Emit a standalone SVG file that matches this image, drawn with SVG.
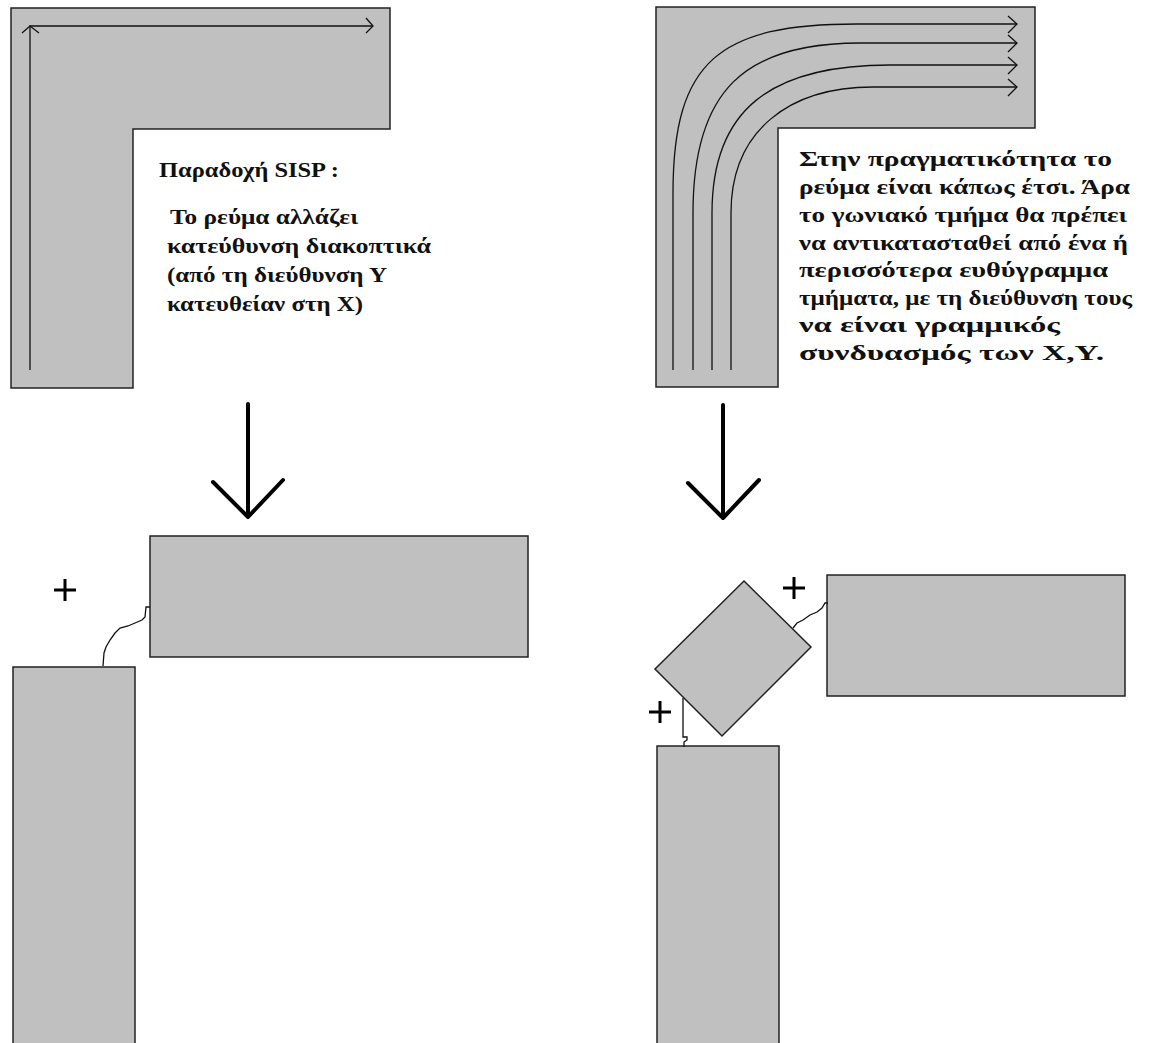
<svg xmlns="http://www.w3.org/2000/svg" width="1149" height="1043" viewBox="0 0 1149 1043">
<style>
.sh{fill:#c0c0c0;stroke:#222;stroke-width:1.5}
.fl{fill:none;stroke:#111;stroke-width:1.3}
.big{fill:none;stroke:#000;stroke-width:4;stroke-linecap:round;stroke-linejoin:round}
.plus{fill:none;stroke:#000;stroke-width:3}
.wv{fill:none;stroke:#111;stroke-width:1.3}
text{font-family:"Liberation Serif","DejaVu Serif",serif;font-weight:bold;font-size:22px;fill:#111}
</style>
<rect width="1149" height="1043" fill="#fff"/>
<g id="left-L">
<polygon class="sh" points="11,8 390,8 390,129 133,129 133,388 11,388"/>
<path class="fl" d="M30,370 L30,26 L373,26"/>
<path class="fl" d="M22,33 L30,26 L39,33"/>
<path class="fl" d="M366,18 L373,26 L366,33"/>
</g>
<g id="right-L">
<polygon class="sh" points="656,7 1035,7 1035,128 778,128 778,387 656,387"/>
<path class="fl" d="M673,370 L673,193 C673,60 720,24 857,24 L1017,24"/>
<path class="fl" d="M693,370 L693,213 C693,90 745,43 860,43 L1017,43"/>
<path class="fl" d="M712,370 L712,213 C712,110 770,65 890,65 L1017,65"/>
<path class="fl" d="M731,370 L731,213 C731,130 790,87 873,87 L1017,87"/>
<path class="fl" d="M1008,16 L1017,24 L1008,33 M1008,35 L1017,43 L1008,52 M1008,57 L1017,65 L1008,74 M1008,79 L1017,87 L1008,96"/>
</g>
<g id="left-text">
<text x="159" y="177" textLength="180" lengthAdjust="spacingAndGlyphs">Παραδοχή SISP :</text>
<text x="170" y="224" textLength="188" lengthAdjust="spacingAndGlyphs">Το ρεύμα αλλάζει</text>
<text x="167" y="253" textLength="264" lengthAdjust="spacingAndGlyphs">κατεύθυνση διακοπτικά</text>
<text x="167" y="282" textLength="220" lengthAdjust="spacingAndGlyphs">(από τη διεύθυνση Υ</text>
<text x="167" y="311" textLength="196" lengthAdjust="spacingAndGlyphs">κατευθείαν στη Χ)</text>
</g>
<g id="right-text">
<text x="799" y="166" textLength="313" lengthAdjust="spacingAndGlyphs">Στην πραγματικότητα το</text>
<text x="799" y="194" textLength="331" lengthAdjust="spacingAndGlyphs">ρεύμα είναι κάπως έτσι. Άρα</text>
<text x="799" y="222" textLength="328" lengthAdjust="spacingAndGlyphs">το γωνιακό τμήμα θα πρέπει</text>
<text x="799" y="250" textLength="329" lengthAdjust="spacingAndGlyphs">να αντικατασταθεί από ένα ή</text>
<text x="799" y="277" textLength="309" lengthAdjust="spacingAndGlyphs">περισσότερα ευθύγραμμα</text>
<text x="799" y="305" textLength="333" lengthAdjust="spacingAndGlyphs">τμήματα, με τη διεύθυνση τους</text>
<text x="799" y="332" textLength="261" lengthAdjust="spacingAndGlyphs">να είναι γραμμικός</text>
<text x="799" y="360" textLength="305" lengthAdjust="spacingAndGlyphs">συνδυασμός των Χ,Υ.</text>
</g>
<g id="connectors">
<path class="big" d="M248,404 L248,517 M213,482 L248,517 L283,480"/>
<path class="big" d="M723,405 L723,518 M688,483 L723,518 L759,480"/>
</g>
<g id="bl-horizontal"><rect class="sh" x="150" y="536" width="378" height="121"/></g>
<g id="bl-vertical"><rect class="sh" x="13" y="667" width="122" height="390"/></g>
<g id="bl-plus"><path class="plus" d="M54,590 L76,590 M65,579 L65,601"/></g>
<g id="bl-joint"><path class="wv" d="M103,666 L104,653 L106,647 L110,640 L115,633 L120,628 L128,626 L135,623 L142,620 L145,617 L146,607 L150,607"/></g>
<g id="br-diamond"><polygon class="sh" points="744,581 811,647 722,736 655,669"/></g>
<g id="br-horizontal"><rect class="sh" x="827" y="575" width="298" height="121"/></g>
<g id="br-vertical"><rect class="sh" x="657" y="746" width="122" height="310"/></g>
<g id="br-plus1"><path class="plus" d="M783,588 L805,588 M794,577 L794,599"/></g>
<g id="br-plus2"><path class="plus" d="M649,712 L671,712 M660,701 L660,723"/></g>
<g id="br-joints">
<path class="wv" d="M793,628 L797,623 L803,620 L810,615 L817,612 L822,608 L825,603 L828,603"/>
<path class="wv" d="M683,698 L683,737 L687,737 L687,740 L684,742 L684,747"/>
</g>
</svg>
